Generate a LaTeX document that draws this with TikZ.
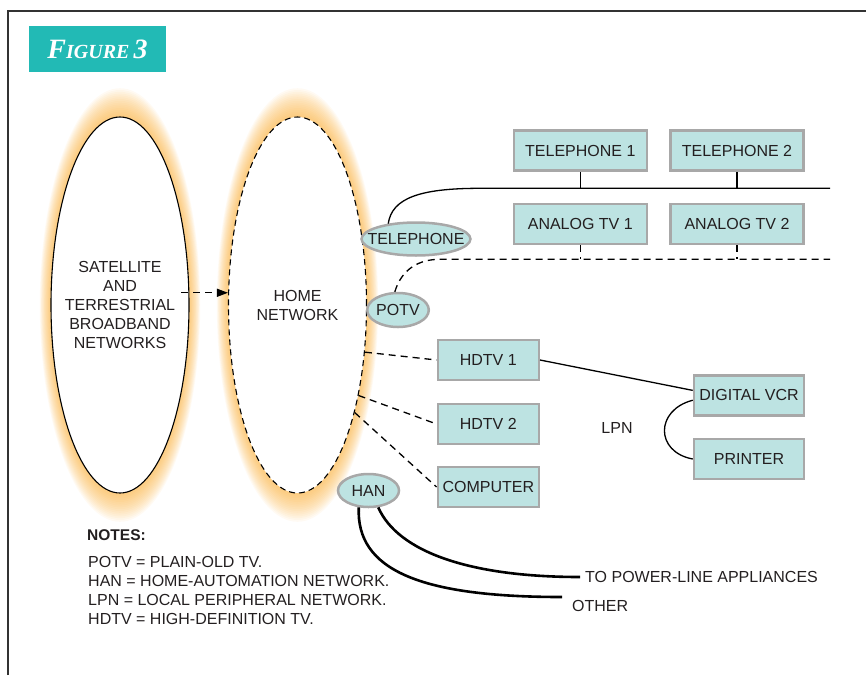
\documentclass[tikz,border=0pt]{standalone}
\usepackage{fontspec}
\setmainfont{Liberation Sans}
\newfontfamily\titlefont{Liberation Serif}
\usetikzlibrary{shapes.geometric,arrows.meta}
\definecolor{boxfill}{RGB}{189,227,226}
\definecolor{boxline}{RGB}{168,168,168}
\definecolor{tealbg}{RGB}{34,186,181}
\definecolor{glowc}{RGB}{250,170,45}
\definecolor{txt}{RGB}{35,31,32}
\newcommand{\myglow}[4]{%
  \foreach \i in {16,...,1}{%
    \fill[glowc, opacity=0.055] (#1,#2) ellipse [x radius={(#3+0.7*\i)*1pt}, y radius={(#4+1.8*\i)*1pt}];
  }%
}
\begin{document}
\begin{tikzpicture}[x=1pt,y=-1pt, font=\fontsize{16}{19}\selectfont, text=txt,
 devbox/.style={rectangle, draw=boxline, fill=boxfill, line width=2.5pt, inner sep=0pt, minimum height=40pt},
 ovalnode/.style={ellipse, draw=boxline, fill=boxfill, line width=2.5pt, inner sep=0pt},
 bigoval/.style={ellipse, draw=black, line width=1.1pt, fill=white, minimum width=138pt, minimum height=376pt, inner ysep=0pt, inner xsep=-22pt, align=center},
 solidlink/.style={draw=black, line width=1.3pt},
 dashlink/.style={draw=black, line width=1.3pt, dash pattern=on 7pt off 5pt},
 hanlink/.style={draw=black, line width=2.6pt},
 lbl/.style={inner sep=0pt, anchor=west},
]
\useasboundingbox (0,0) rectangle (866,675);
% frame
\draw[line width=1.2pt, black!80] (8,675) -- (8,11) -- (866,11);
% glows
\myglow{120}{305}{69}{188}
\myglow{297.5}{305}{69.5}{188}
% big ovals
\node[bigoval] (sat) at (120,305) {SATELLITE\\AND\\TERRESTRIAL\\BROADBAND\\NETWORKS};
\node[bigoval, dash pattern=on 6pt off 4pt] (home) at (297.5,305) {HOME\\NETWORK};
% title
\node[fill=tealbg, minimum width=137pt, minimum height=46pt, inner sep=0pt, text=white] (title) at (97.5,49)
  {\titlefont\bfseries\itshape{\fontsize{28}{28}\selectfont F}{\fontsize{20}{20}\selectfont IGURE} {\fontsize{28}{28}\selectfont 3}};
% notes
\node[lbl, font=\fontsize{15.5}{19}\selectfont\bfseries] (notes) at (87,535) {NOTES:};
\node[lbl] (n1) at (88,562) {POTV = PLAIN-OLD TV.};
\node[lbl] (n2) at (88,581) {HAN = HOME-AUTOMATION NETWORK.};
\node[lbl] (n3) at (88,600) {LPN = LOCAL PERIPHERAL NETWORK.};
\node[lbl] (n4) at (88,619) {HDTV = HIGH-DEFINITION TV.};
% device boxes
\node[devbox, minimum width=133pt] (tel1) at (580.3,150.5) {TELEPHONE 1};
\node[devbox, minimum width=133pt] (tel2) at (737,150.5) {TELEPHONE 2};
\node[devbox, minimum width=133pt] (atv1) at (580.3,224) {ANALOG TV 1};
\node[devbox, minimum width=133pt] (atv2) at (737,224) {ANALOG TV 2};
\node[devbox, minimum width=101pt] (hd1) at (488.3,360) {HDTV 1};
\node[devbox, minimum width=101pt] (hd2) at (488.3,424) {HDTV 2};
\node[devbox, minimum width=101pt] (comp) at (488.3,487) {COMPUTER};
\node[devbox, minimum width=110pt] (vcr) at (749,395.3) {DIGITAL VCR};
\node[devbox, minimum width=110pt] (prn) at (749,459) {PRINTER};
% oval nodes
\node[ovalnode, minimum width=109pt, minimum height=33pt, inner xsep=-12pt] (tel) at (416,239) {TELEPHONE};
\node[ovalnode, minimum width=60pt, minimum height=34pt] (potv) at (398,310) {POTV};
\node[ovalnode, minimum width=61pt, minimum height=33pt] (han) at (368.5,490.5) {HAN};
% labels
\node[inner sep=0pt] (lpn) at (617,428) {LPN};
\node[lbl] (pl) at (585,577) {TO POWER-LINE APPLIANCES};
\node[lbl] (oth) at (572,606) {OTHER};
% bus coordinates
\coordinate (telbus) at (480,188.3);
\coordinate (telbusend) at (830,188.3);
\coordinate (tvbus) at (440,259.3);
\coordinate (tvbusend) at (830,259.3);
\coordinate (othend) at (562,597);
\coordinate (plend) at (580,577);
% arrow sat -> home
\draw[dashlink, -{Triangle[length=11pt,width=8pt]}] ([xshift=-8pt]sat.10) -- (sat.10 -| home.west);
% telephone bus
\draw[solidlink] (tel.151) .. controls (392,198) and (420,188.3) .. (telbus) -- (telbusend);
\draw[solidlink] (tel1.south) -- (tel1.south |- telbusend);
\draw[solidlink] (tel2.south) -- (tel2.south |- telbusend);
% analog bus
\draw[dashlink] (potv.100) .. controls (402,268) and (420,259.3) .. (tvbus) -- (tvbusend);
\draw[dashlink] (atv1.south) -- (atv1.south |- tvbusend);
\draw[dashlink] (atv2.south) -- (atv2.south |- tvbusend);
% home -> devices
\draw[dashlink] (home.-35) -- (hd1.west);
\draw[dashlink] (home.-56) -- (hd2.west);
\draw[dashlink] (home.-62) -- (comp.west);
% LPN
\draw[solidlink] (hd1.east) -- (vcr.175);
\draw[solidlink] (vcr.185) .. controls (655,410) and (655,452) .. (prn.west);
% HAN
\draw[hanlink] (han.-60) .. controls (398,552) and (470,577) .. (plend);
\draw[hanlink] (han.-120) .. controls (356,570) and (420,597) .. (othend);
\end{tikzpicture}
\end{document}
